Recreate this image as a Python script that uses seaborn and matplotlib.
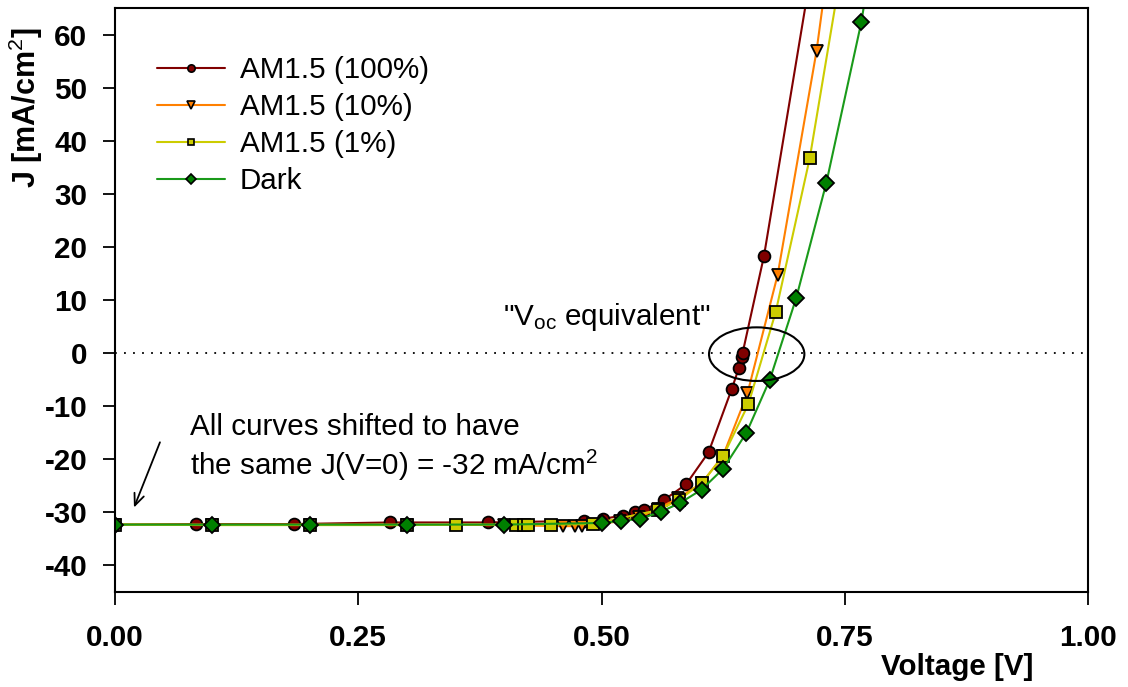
import numpy as np
import pandas as pd
import matplotlib
matplotlib.use("Agg")
import matplotlib.pyplot as plt
from matplotlib.patches import Ellipse
from matplotlib.lines import Line2D
import seaborn as sns

# ---- data ----
v_100 = [0.0, 0.083, 0.184, 0.283, 0.383, 0.482, 0.502, 0.522, 0.534, 0.544, 0.564, 0.587, 0.610, 0.634, 0.641, 0.644, 0.645, 0.667, 0.75]
j_100 = [-32.3, -32.2, -32.2, -31.9, -31.9, -31.6, -31.2, -30.6, -29.9, -29.5, -27.7, -24.7, -18.7, -6.7, -2.9, -0.7, 0.0, 18.3, 110.0]

v_10 = [0.0, 0.1, 0.2, 0.3, 0.4, 0.46, 0.473, 0.48, 0.519, 0.539, 0.558, 0.579, 0.603, 0.625, 0.650, 0.681, 0.721, 0.76]
j_10 = [-32.3, -32.3, -32.3, -32.3, -32.4, -32.6, -32.6, -32.5, -31.7, -30.9, -29.3, -27.3, -24.5, -19.3, -7.6, 14.7, 56.9, 110.0]

v_1 = [0.0, 0.1, 0.2, 0.3, 0.35, 0.412, 0.42, 0.424, 0.448, 0.491, 0.558, 0.580, 0.603, 0.625, 0.651, 0.679, 0.714, 0.77]
j_1 = [-32.3, -32.4, -32.4, -32.4, -32.3, -32.3, -32.3, -32.3, -32.3, -32.2, -29.6, -27.6, -24.5, -19.4, -9.6, 7.7, 36.7, 98.0]

v_dark = [0.0, 0.1, 0.2, 0.3, 0.4, 0.5, 0.52, 0.54, 0.561, 0.581, 0.603, 0.625, 0.649, 0.673, 0.700, 0.731, 0.767, 0.80]
j_dark = [-32.3, -32.3, -32.3, -32.3, -32.3, -32.0, -31.6, -31.2, -29.9, -28.2, -25.7, -21.8, -15.0, -5.0, 10.3, 32.0, 62.3, 100.0]

labels = ["AM1.5 (100%)", "AM1.5 (10%)", "AM1.5 (1%)", "Dark"]
x_ticks = [0.0, 0.25, 0.5, 0.75, 1.0]
x_ticklabels = ["0.00", "0.25", "0.50", "0.75", "1.00"]
y_ticks = [-40, -30, -20, -10, 0, 10, 20, 30, 40, 50, 60]

# ---- style ----
sns.set_theme(style="white")
plt.rcParams['font.family'] = ['Liberation Sans', 'DejaVu Sans']
plt.rcParams['mathtext.fontset'] = 'custom'
plt.rcParams['mathtext.rm'] = 'Liberation Sans'
plt.rcParams['mathtext.it'] = 'Liberation Sans:italic'
plt.rcParams['mathtext.bf'] = 'Liberation Sans:bold'
plt.rcParams['axes.unicode_minus'] = False
plt.rcParams['text.color'] = 'black'

FS = 21.3

fig = plt.figure(figsize=(11.28, 6.87), dpi=100)
ax = fig.add_axes([115/1128, 1-592/687, (1088-115)/1128, (592-8)/687])

series = [
    (v_100, j_100, "#800000", "#800000", "o", 8.5),
    (v_10, j_10, "#FF8000", "#FF8000", "v", 9.0),
    (v_1, j_1, "#CCCC00", "#CCCC00", "s", 8.0),
    (v_dark, j_dark, "#1A9A1A", "#008000", "D", 8.0),
]

for (vx, jy, lc, fc, mk, ms), lab in zip(series, labels):
    df = pd.DataFrame({"V": vx, "J": jy})
    sns.lineplot(data=df, x="V", y="J", ax=ax, color=lc, lw=1.5,
                 marker=mk, markersize=ms, markerfacecolor=fc,
                 markeredgecolor="black", markeredgewidth=1.3,
                 estimator=None, sort=False, label=lab, legend=False)

# reference line at J=0
ax.axhline(0, color="black", lw=1.3, ls=(0, (1, 4)), zorder=1)

ax.set_xlim(0, 1.0)
ax.set_ylim(-45, 65)
ax.set_xticks(x_ticks)
ax.set_xticklabels(x_ticklabels)
ax.set_yticks(y_ticks)

for s in ax.spines.values():
    s.set_visible(True)
    s.set_color("black")
    s.set_linewidth(1.5)

ax.tick_params(axis='x', direction='out', length=9, width=1.3, color='black', pad=14,
               bottom=True, labelsize=FS, labelcolor='black')
ax.tick_params(axis='y', direction='out', length=9, width=1.3, color='black', pad=11,
               left=True, labelsize=FS, labelcolor='black')
for t in ax.get_xticklabels() + ax.get_yticklabels():
    t.set_fontweight('bold')

ax.set_xlabel("Voltage [V]", fontsize=FS, fontweight='bold', color='black')
ax.xaxis.set_label_coords(0.866, -0.105)
ax.set_ylabel(r"J [mA/cm$^{2}$]", fontsize=FS + 0.7, fontweight='bold', color='black')
ax.yaxis.set_label_coords(-0.072, 0.83)

# legend
leg_handles = [Line2D([0], [0], color=lc, lw=1.5, marker=mk, markersize=ms*0.62,
                      markerfacecolor=fc, markeredgecolor='black', markeredgewidth=1.2)
               for (vx, jy, lc, fc, mk, ms) in series]
leg = ax.legend(leg_handles, labels, loc='upper left', bbox_to_anchor=(0.043, 0.918),
                frameon=False, fontsize=FS, handlelength=2.3, handletextpad=0.5,
                labelspacing=0.31, borderpad=0, borderaxespad=0)
for t in leg.get_texts():
    t.set_color('black')

# annotations
ax.text(0.399, 5.3, r'"V$_{\mathrm{oc}}$ equivalent"', fontsize=FS, va='baseline', ha='left', color='black')
ax.add_patch(Ellipse((0.6595, -0.2), 0.098, 10.1, fill=False, edgecolor='black', lw=1.5, zorder=5))
ax.text(0.077, -15.5, "All curves shifted to have", fontsize=FS, va='baseline', ha='left', color='black')
ax.text(0.077, -23.0, r"the same J(V=0) = -32 mA/cm$^{2}$", fontsize=FS, va='baseline', ha='left', color='black')
ax.annotate("", xy=(0.0195, -29.1), xytext=(0.0462, -16.8),
            arrowprops=dict(arrowstyle='->,head_length=0.7,head_width=0.3', color='black', lw=1.3,
                            shrinkA=0, shrinkB=0))

fig.savefig("out.png", dpi=100)
